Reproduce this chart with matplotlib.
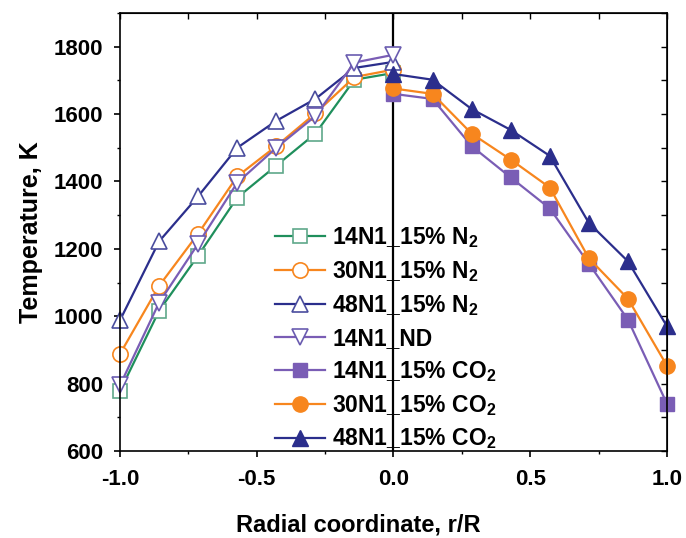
import matplotlib
matplotlib.use("Agg")
import matplotlib.pyplot as plt
from matplotlib.ticker import MultipleLocator

plt.rcParams['font.family'] = ['Liberation Sans', 'DejaVu Sans']
plt.rcParams['font.weight'] = 'bold'
plt.rcParams['mathtext.fontset'] = 'custom'
plt.rcParams['mathtext.bf'] = 'Liberation Sans:bold'
plt.rcParams['mathtext.rm'] = 'Liberation Sans:bold'
plt.rcParams['mathtext.default'] = 'bf'

# radial positions, r/R (7 steps per side)
r_left = [-1.0, -6/7, -5/7, -4/7, -3/7, -2/7, -1/7, 0.0]
r_right = [0.0, 1/7, 2/7, 3/7, 4/7, 5/7, 6/7, 1.0]

# N2 dilution and no-dilution cases (left half)
t_14_n2 = [778, 1016, 1180, 1352, 1447, 1542, 1702, 1722]
t_30_n2 = [888, 1090, 1245, 1415, 1505, 1602, 1710, 1732]
t_48_n2 = [988, 1222, 1356, 1500, 1580, 1645, 1737, 1755]
t_14_nd = [795, 1040, 1215, 1396, 1500, 1594, 1753, 1776]

# CO2 dilution cases (right half)
t_14_co2 = [1660, 1645, 1505, 1412, 1320, 1156, 990, 740]
t_30_co2 = [1676, 1660, 1542, 1465, 1382, 1172, 1052, 853]
t_48_co2 = [1719, 1702, 1615, 1553, 1476, 1277, 1163, 970]

green = '#1f8f5c'
orange = '#f7861e'
navy = '#2b2e8c'
purple = '#7a5db5'

fig = plt.figure(figsize=(6.86, 5.38), dpi=100)
ax = fig.add_axes([0.1749, 0.1617, 0.7974, 0.8141])

lw = 1.6
ms = 10
kw = dict(lw=lw, clip_on=False)
ax.plot(r_left, t_14_n2, '-s', color=green, mfc='white', mec='#5fa88a', ms=ms, mew=1.2, label='14N1_15% N$_2$', **kw)
ax.plot(r_left, t_30_n2, '-o', color=orange, mfc='white', mec=orange, ms=ms + 1, mew=1.2, label='30N1_15% N$_2$', **kw)
ax.plot(r_left, t_48_n2, '-^', color=navy, mfc='white', mec='#4a4d9e', ms=ms + 2, mew=1.2, label='48N1_15% N$_2$', **kw)
ax.plot(r_left, t_14_nd, '-v', color=purple, mfc='white', mec='#6a5cb0', ms=ms + 2, mew=1.2, label='14N1_ND', **kw)
ax.plot(r_right, t_14_co2, '-s', color=purple, mfc=purple, mec=purple, ms=ms, label='14N1_15% CO$_2$', **kw)
ax.plot(r_right, t_30_co2, '-o', color=orange, mfc=orange, mec=orange, ms=ms + 1, label='30N1_15% CO$_2$', **kw)
ax.plot(r_right, t_48_co2, '-^', color=navy, mfc=navy, mec=navy, ms=ms + 2, label='48N1_15% CO$_2$', **kw)

ax.axvline(0, color='black', lw=1.6, zorder=1)

ax.set_xlim(-1, 1)
ax.set_ylim(600, 1900)
ax.xaxis.set_major_locator(MultipleLocator(0.5))
ax.xaxis.set_minor_locator(MultipleLocator(0.25))
ax.yaxis.set_minor_locator(MultipleLocator(100))
ax.set_yticks([600, 800, 1000, 1200, 1400, 1600, 1800])
ax.xaxis.set_major_formatter(plt.FormatStrFormatter('%.1f'))
ax.tick_params(which='major', direction='out', length=4, width=1.2, labelsize=16)
ax.tick_params(axis='x', which='major', pad=9)
ax.tick_params(axis='y', which='major', pad=8)
ax.tick_params(which='minor', direction='out', length=2.5, width=1.0)
for s in ax.spines.values():
    s.set_linewidth(1.2)

# mirrored inward ticks on top and right
top = ax.secondary_xaxis('top')
top.xaxis.set_major_locator(MultipleLocator(0.5))
top.xaxis.set_minor_locator(MultipleLocator(0.25))
top.tick_params(which='both', direction='in', labeltop=False, length=4, width=1.0)
right = ax.secondary_yaxis('right')
right.yaxis.set_major_locator(MultipleLocator(200))
right.yaxis.set_minor_locator(MultipleLocator(100))
right.tick_params(which='both', direction='in', labelright=False, length=4, width=1.0)

ax.set_xlabel('Radial coordinate, r/R', fontsize=17, fontweight='bold')
ax.xaxis.set_label_coords(0.435, -0.142)
ax.set_ylabel('Temperature, K', fontsize=18, fontweight='bold', labelpad=8)

ax.legend(loc='upper left', bbox_to_anchor=(0.283, 0.515), frameon=False,
          fontsize=16.5, handlelength=2.2, handletextpad=0.3, labelspacing=0.39,
          borderpad=0, borderaxespad=0)

fig.savefig('out.png', dpi=100)
